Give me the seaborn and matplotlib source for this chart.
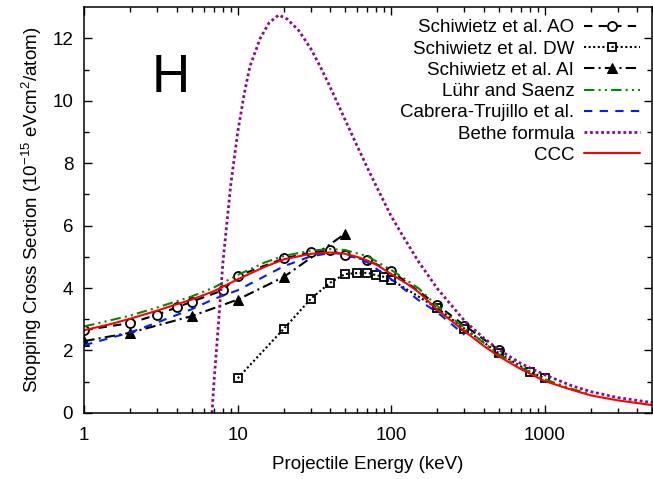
import numpy as np
import pandas as pd
import matplotlib
matplotlib.use("Agg")
import matplotlib.pyplot as plt
import seaborn as sns

# energies in keV, stopping cross sections in 1e-15 eV cm^2/atom
ao_e = [1, 2, 3, 4, 5, 8, 10, 20, 30, 40, 50, 70, 100, 200, 300, 500]
ao_s = [2.65, 2.88, 3.15, 3.38, 3.56, 3.93, 4.39, 4.95, 5.14, 5.21, 5.05, 4.89, 4.55, 3.45, 2.80, 2.02]

dw_e = [10, 20, 30, 40, 50, 60, 70, 80, 90, 100, 200, 300, 500, 800, 1000]
dw_s = [1.11, 2.70, 3.66, 4.17, 4.45, 4.48, 4.49, 4.41, 4.36, 4.27, 3.35, 2.70, 1.92, 1.32, 1.11]

ai_e = [1, 2, 5, 10, 20, 50]
ai_s = [2.30, 2.57, 3.10, 3.63, 4.36, 5.74]

luhr_e = [1, 2, 3, 5, 7, 10, 15, 20, 30, 40, 50, 70, 100, 150, 200, 300, 500, 700, 1000, 1500, 2000]
luhr_s = [2.77, 3.12, 3.38, 3.73, 4.02, 4.42, 4.82, 5.03, 5.20, 5.25, 5.22, 5.02, 4.58, 4.00, 3.42, 2.72, 1.88, 1.45, 1.08, 0.77, 0.59]

cab_e = [1, 2, 3, 5, 7, 10, 15, 20, 30, 40, 50, 70, 100, 150, 200, 300]
cab_s = [2.17, 2.58, 2.90, 3.32, 3.65, 3.93, 4.38, 4.70, 5.02, 5.12, 5.10, 4.82, 4.28, 3.62, 3.22, 2.50]

bethe_e = [6.8, 7, 7.5, 8, 9, 10, 11, 12, 14, 16, 18.5, 21, 25, 30, 35, 40, 50, 60, 70, 80,
           100, 120, 150, 200, 300, 400, 500, 700, 1000, 1500, 2000, 3000, 5000]
bethe_s = [0.0, 0.98, 2.9, 4.8, 7.3, 9.0, 10.2, 11.1, 12.0, 12.5, 12.75, 12.62, 12.25, 11.66, 11.03,
           10.44, 9.4, 8.55, 7.85, 7.26, 6.3, 5.64, 4.86, 3.98, 2.95, 2.4, 2.03, 1.58, 1.22,
           0.87, 0.68, 0.49, 0.33]

ccc_e = [1, 1.5, 2, 3, 4, 5, 7, 10, 15, 20, 30, 40, 50, 60, 70, 80, 100, 130, 150, 200,
         300, 400, 500, 700, 1000, 1500, 2000, 3000, 5000]
ccc_s = [2.65, 2.85, 3.02, 3.28, 3.48, 3.63, 3.90, 4.28, 4.68, 4.92, 5.10, 5.14, 5.10, 5.00,
         4.88, 4.75, 4.45, 4.10, 3.88, 3.30, 2.62, 2.15, 1.82, 1.40, 1.02, 0.74, 0.56, 0.40, 0.25]

sns.set_style("ticks")
plt.rcParams['font.family'] = ['Liberation Sans', 'DejaVu Sans']
plt.rcParams['mathtext.fontset'] = 'custom'
plt.rcParams['mathtext.rm'] = 'Liberation Sans'
plt.rcParams['mathtext.it'] = 'Liberation Sans'
plt.rcParams['font.size'] = 13.5
for k in ['text.color', 'axes.labelcolor', 'xtick.color', 'ytick.color', 'axes.edgecolor']:
    plt.rcParams[k] = 'black'

fig, ax = plt.subplots(figsize=(6.53, 4.79), dpi=100)
fig.subplots_adjust(left=0.129, right=0.9985, bottom=0.138, top=0.985)

lw = 1.5
sns.lineplot(x=ao_e, y=ao_s, ax=ax, color='black', lw=lw, linestyle=(0, (4, 3)),
             marker='o', markersize=6.5, mfc='white', mec='black', mew=1.3,
             label='Schiwietz et al. AO')
sns.lineplot(x=dw_e, y=dw_s, ax=ax, color='black', lw=lw, linestyle=(0, (1, 1.2)),
             marker='s', markersize=5.5, mfc='none', mec='black', mew=1.3,
             label='Schiwietz et al. DW')
sns.lineplot(x=ai_e, y=ai_s, ax=ax, color='black', lw=lw, linestyle=(0, (5, 2, 1, 2)),
             marker='^', markersize=7, mfc='black', mec='black',
             label='Schiwietz et al. AI')
sns.lineplot(x=luhr_e, y=luhr_s, ax=ax, color='#008a00', lw=lw,
             linestyle=(0, (5, 2, 1, 2, 1, 2)), label='Lühr and Saenz')
sns.lineplot(x=cab_e, y=cab_s, ax=ax, color='#0020f0', lw=lw,
             linestyle=(0, (4, 3.5)), label='Cabrera-Trujillo et al.')
sns.lineplot(x=bethe_e, y=bethe_s, ax=ax, color='#8b0a8b', lw=2,
             linestyle=(0, (1, 1)), label='Bethe formula')
sns.lineplot(x=ccc_e, y=ccc_s, ax=ax, color='#ff0000', lw=lw, label='CCC')

ax.set_xscale('log')
ax.set_xlim(1, 5000)
ax.set_ylim(0, 13)
ax.set_yticks(np.arange(0, 13, 2))
ax.set_yticks(np.arange(1, 13, 2), minor=True)
ax.set_xticks([1, 10, 100, 1000])
ax.set_xticklabels(['1', '10', '100', '1000'])

ax.tick_params(which='both', direction='in', top=True, right=True, colors='black')
ax.tick_params(which='major', length=6, width=1)
ax.tick_params(which='minor', length=3.5, width=1)
ax.tick_params(axis='x', which='major', pad=10, labelsize=13.5)
ax.tick_params(axis='y', which='major', pad=8, labelsize=13.5)
for sp in ax.spines.values():
    sp.set_linewidth(1.1)
    sp.set_color('black')

ax.set_xlabel('Projectile Energy (keV)', fontsize=13.5, labelpad=9)
ax.set_ylabel('Stopping Cross Section (10$^{-15}$ eVcm$^{2}$/atom)', fontsize=13.5, labelpad=6)

ax.text(3.68, 10.73, 'H', fontsize=38, ha='center', va='center')

leg = ax.legend(loc='upper right', frameon=False, fontsize=13.5, markerfirst=False,
                handlelength=3.0, handletextpad=0.5, labelspacing=0.22,
                borderaxespad=0.3, borderpad=0.35, numpoints=1)
for t in leg.get_texts():
    t.set_ha('right')

fig.savefig('out.png', dpi=100)
